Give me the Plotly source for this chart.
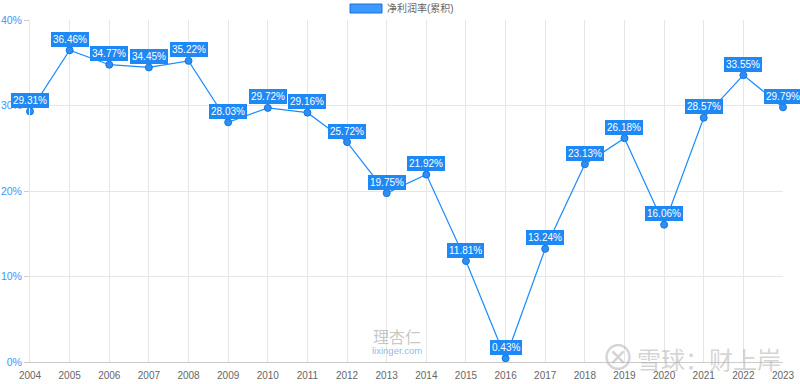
import plotly.graph_objects as go

years = [str(y) for y in range(2004, 2024)]
values = [29.31, 36.46, 34.77, 34.45, 35.22, 28.03, 29.72, 29.16, 25.72, 19.75,
          21.92, 11.81, 0.43, 13.24, 23.13, 26.18, 16.06, 28.57, 33.55, 29.79]
series_name = "净利润率(累积)"
y_ticks = [0, 10, 20, 30, 40]
y_tick_text = ["0%", "10%", "20%", "30%", "40%"]

blue = "#1a8cff"
fig = go.Figure()
fig.add_trace(go.Scatter(
    x=years, y=values, mode="lines+markers", name=series_name,
    line=dict(color=blue, width=1.2),
    marker=dict(size=7, color="#2b8ff5", line=dict(color="#1a73d9", width=1)),
    showlegend=False, cliponaxis=False,
))

for i, v in enumerate(values):
    fig.add_annotation(
        x=i, y=v, xref="x", yref="y", text=f"{v:.2f}%", showarrow=False, yshift=11,
        xanchor="center", yanchor="middle",
        font=dict(color="white", size=10, family="Arial, Liberation Sans"),
        bgcolor="#1e88f5", bordercolor="#1e88f5", borderwidth=1, borderpad=1,
    )

# legend (rectangle + text)
fig.add_shape(type="rect", xref="paper", yref="paper",
              x0=(350 - 30) / 753, x1=(382 - 30) / 753,
              y0=(362 - 13) / 342, y1=(362 - 4) / 342,
              fillcolor="#3d98ff", line=dict(color="#1a73d9", width=1))
fig.add_annotation(xref="paper", yref="paper", x=(385 - 30) / 753, y=(362 - 8.5) / 342,
                   xanchor="left", yanchor="middle", showarrow=False,
                   text=series_name, font=dict(size=10, color="#666666"))

# watermarks
fig.add_annotation(xref="paper", yref="paper", x=(397 - 30) / 753, y=(362 - 336) / 342,
                   xanchor="center", yanchor="middle", showarrow=False, text="理杏仁",
                   font=dict(size=16, color="rgba(150,150,150,0.55)", family="Noto Sans CJK SC"))
fig.add_annotation(xref="paper", yref="paper", x=(397 - 30) / 753, y=(362 - 350) / 342,
                   xanchor="center", yanchor="middle", showarrow=False, text="lixinger.com",
                   font=dict(size=9.5, color="rgba(60,130,220,0.6)"))
fig.add_annotation(xref="paper", yref="paper", x=(709 - 30) / 753, y=(362 - 358) / 342,
                   xanchor="center", yanchor="middle", showarrow=False, text="雪球：财上岸",
                   font=dict(size=24, color="rgba(170,170,170,0.5)", family="Noto Sans CJK SC"))
fig.add_annotation(xref="paper", yref="paper", x=(618 - 30) / 753, y=(362 - 358) / 342,
                   xanchor="center", yanchor="middle", showarrow=False, text="⊗",
                   font=dict(size=34, color="rgba(170,170,170,0.5)"))

fig.update_layout(
    width=800, height=384, plot_bgcolor="white", paper_bgcolor="white",
    margin=dict(l=30, r=17, t=20, b=22, autoexpand=False),
    font=dict(family="Arial, Liberation Sans, Noto Sans CJK SC"),
    xaxis=dict(type="category", showgrid=True, gridcolor="#e6e6e6", gridwidth=1,
               tickfont=dict(size=10, color="#666666"), showline=True, linecolor="#cccccc",
               ticks="outside", ticklen=4, tickcolor="rgba(0,0,0,0)",
               range=[0, len(years) - 1], automargin=False),
    yaxis=dict(range=[0, 40], tickvals=y_ticks, ticktext=y_tick_text,
               showgrid=True, gridcolor="#e6e6e6", zeroline=False,
               showline=True, linecolor="#e6e6e6", automargin=False,
               ticks="outside", ticklen=5, tickcolor="#cccccc",
               tickfont=dict(size=10.5, color="#3399ff")),
)
fig.write_html("out.html", config={"displayModeBar": False},
               post_script="document.body.style.margin='0';")
